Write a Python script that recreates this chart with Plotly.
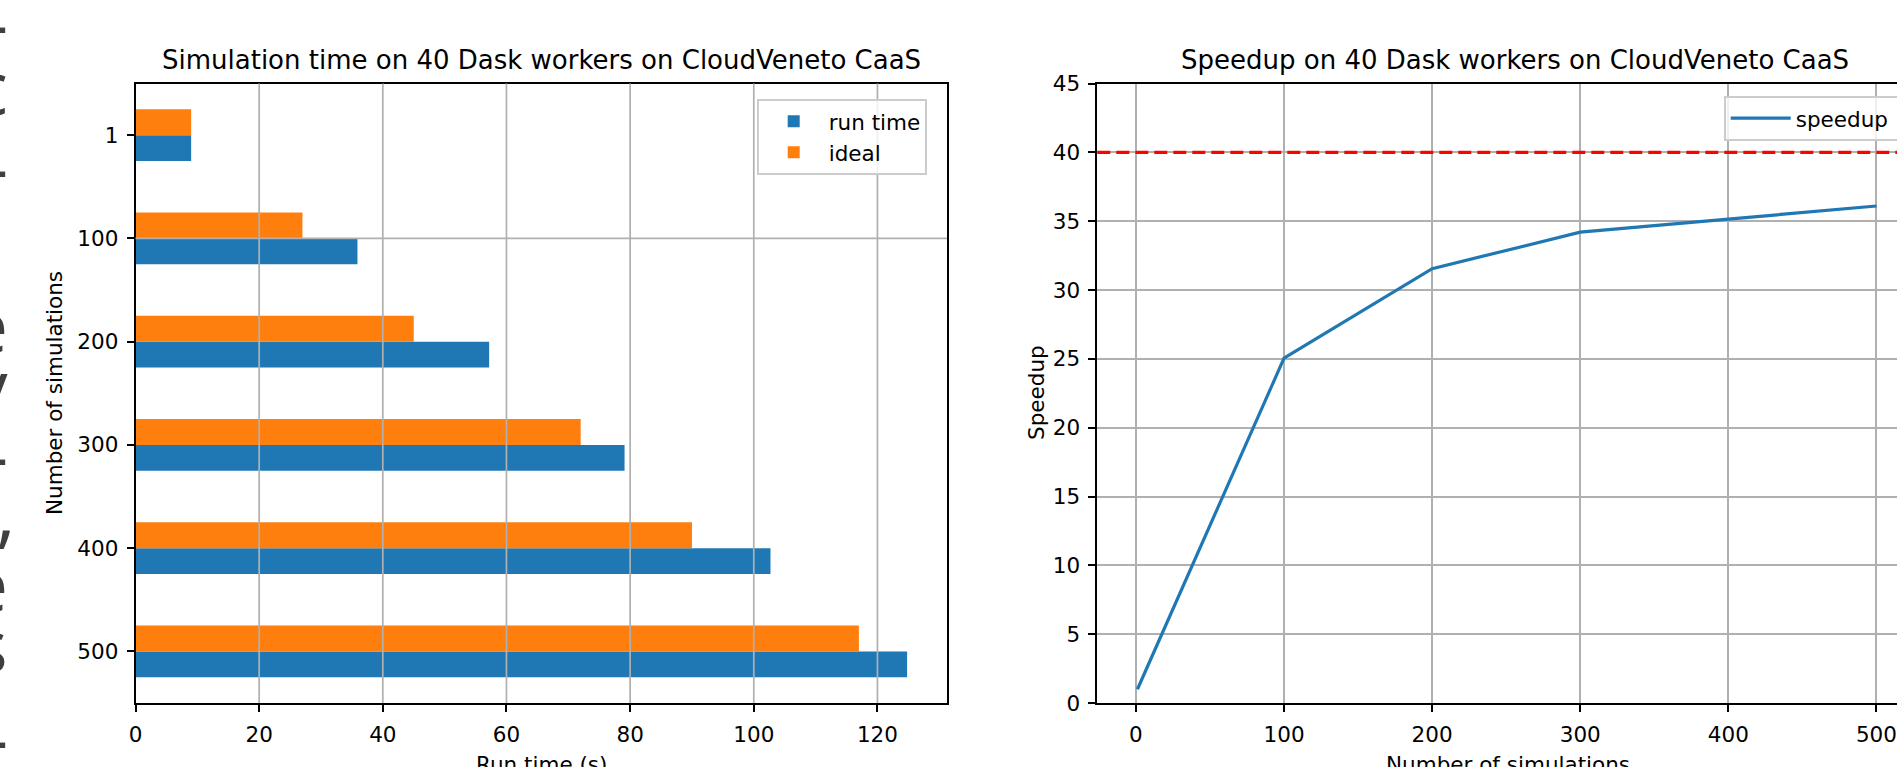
import plotly.graph_objects as go

# ---------------- data ----------------
categories = ["1", "100", "200", "300", "400", "500"]
run_time = [9.0, 35.9, 57.2, 79.1, 102.7, 124.8]
ideal = [9.0, 27.0, 45.0, 72.0, 90.0, 117.0]

n_sims = [1, 100, 200, 300, 400, 500]
speedup = [1.0, 25.05, 31.55, 34.2, 35.15, 36.1]
ideal_speedup = 40

left_xticks = [0, 20, 40, 60, 80, 100, 120]
right_xticks = [0, 100, 200, 300, 400, 500]
right_yticks = [0, 5, 10, 15, 20, 25, 30, 35, 40, 45]

# fragments of text cut by the left edge of the reference picture
frag_chars = ["-", "c", "-", "e", "y", "-", ",", "e", "s", "-"]
frag_y = [30, 95, 174, 333, 394, 462, 519, 592, 653, 745]

# ---------------- layout helpers ----------------
W, H = 1897, 767
def px(x):
    return x / W
def py(y):
    return 1 - y / H

BLUE = "#1f77b4"
ORANGE = "#ff7f0e"
GRID = "#b0b0b0"
FONT = "DejaVu Sans"
TICK = 21.5
LW = 1.7

fig = go.Figure()

fig.add_trace(go.Bar(
    y=categories, x=run_time, orientation="h", name="run time",
    marker=dict(color=BLUE, line=dict(width=0)), width=0.25, offset=0.0,
    xaxis="x", yaxis="y", legend="legend",
))
fig.add_trace(go.Bar(
    y=categories, x=ideal, orientation="h", name="ideal",
    marker=dict(color=ORANGE, line=dict(width=0)), width=0.25, offset=-0.25,
    xaxis="x", yaxis="y", legend="legend",
))
fig.add_trace(go.Scatter(
    x=n_sims, y=speedup, mode="lines", name="speedup\u00a0\u00a0\u00a0\u00a0",
    line=dict(color=BLUE, width=3.2),
    xaxis="x2", yaxis="y2", legend="legend2",
))

axis_common = dict(
    showline=True, linecolor="black", linewidth=LW,
    ticks="outside", ticklen=7, tickwidth=LW, tickcolor="black",
    tickfont=dict(family=FONT, size=TICK, color="black"),
    zeroline=False, layer="above traces", ticklabelstandoff=4,
    automargin=False,
)

fig.update_layout(
    template="none",
    width=W, height=H,
    margin=dict(l=0, r=0, t=0, b=0, pad=0, autoexpand=False),
    paper_bgcolor="white", plot_bgcolor="white",
    barmode="overlay",
    font=dict(family=FONT, size=TICK, color="black"),
    xaxis=dict(domain=[px(135.5), px(947)], range=[0, 131.25],
               tickvals=left_xticks, showgrid=False, mirror=True,
               anchor="y", **axis_common),
    yaxis=dict(domain=[py(703), py(83.5)], type="category",
               categoryorder="array", categoryarray=categories,
               range=[5.5, -0.5], showgrid=False, mirror=True,
               anchor="x", **axis_common),
    xaxis2=dict(domain=[px(1097.3), 1.0], range=[-26.1, 513.9],
                tickvals=right_xticks, showgrid=True, gridcolor=GRID,
                gridwidth=LW, mirror=True, anchor="y2", **axis_common),
    yaxis2=dict(domain=[py(703), py(83.5)], range=[0, 45],
                tickvals=right_yticks, showgrid=True, gridcolor=GRID,
                gridwidth=LW, mirror=False, anchor="x2", **axis_common),
    legend=dict(x=px(757), y=py(99), xanchor="left", yanchor="top",
                bgcolor="rgba(255,255,255,0.8)", bordercolor="#cccccc",
                borderwidth=LW, font=dict(family=FONT, size=TICK),
                traceorder="normal", itemwidth=60),
    legend2=dict(x=px(1724), y=py(96), xanchor="left", yanchor="top",
                 bgcolor="rgba(255,255,255,0.8)", bordercolor="#cccccc",
                 borderwidth=LW, font=dict(family=FONT, size=TICK),
                 itemwidth=60),
)

shapes = []
# grid lines of the left plot, drawn above the bars like in the reference
for t in left_xticks[1:]:
    shapes.append(dict(type="line", xref="x", yref="y domain", x0=t, x1=t,
                       y0=0, y1=1, line=dict(color=GRID, width=LW), layer="above"))
for c in categories:
    shapes.append(dict(type="line", xref="x domain", yref="y", x0=0, x1=1,
                       y0=c, y1=c, line=dict(color=GRID, width=LW), layer="above"))
# ideal speedup line
shapes.append(dict(type="line", xref="x2 domain", yref="y2", x0=0, x1=1,
                   y0=ideal_speedup, y1=ideal_speedup,
                   line=dict(color="red", width=3.2, dash="13px,6px"), layer="above"))
fig.update_layout(shapes=shapes)

ann = []
ann.append(dict(text="Simulation time on 40 Dask workers on CloudVeneto CaaS",
                x=px(541), y=py(60), xref="paper", yref="paper",
                xanchor="center", yanchor="middle", showarrow=False,
                font=dict(family=FONT, size=26, color="black")))
ann.append(dict(text="Speedup on 40 Dask workers on CloudVeneto CaaS",
                x=px(1515), y=py(60), xref="paper", yref="paper",
                xanchor="center", yanchor="middle", showarrow=False,
                font=dict(family=FONT, size=26, color="black")))
ann.append(dict(text="Run time (s)", x=px(541), y=py(750), xref="paper", yref="paper",
                xanchor="center", yanchor="top", showarrow=False,
                font=dict(family=FONT, size=TICK, color="black")))
ann.append(dict(text="Number of simulations", x=px(1508), y=py(750), xref="paper",
                yref="paper", xanchor="center", yanchor="top", showarrow=False,
                font=dict(family=FONT, size=TICK, color="black")))
ann.append(dict(text="Number of simulations", x=px(54), y=py(393), xref="paper",
                yref="paper", xanchor="center", yanchor="middle", textangle=-90,
                showarrow=False, font=dict(family=FONT, size=TICK, color="black")))
ann.append(dict(text="Speedup", x=px(1036), y=py(393), xref="paper",
                yref="paper", xanchor="center", yanchor="middle", textangle=-90,
                showarrow=False, font=dict(family=FONT, size=TICK, color="black")))
for ch, yy in zip(frag_chars, frag_y):
    xr = 17 if ch == "," else 10
    ann.append(dict(text=ch, x=px(xr), y=py(yy - 9), xref="paper", yref="paper",
                    xanchor="right", yanchor="middle", showarrow=False,
                    font=dict(family="Open Sans", size=75, color="#3f3f3f")))
fig.update_layout(annotations=ann)

fig.write_html("out.html",
               config={"displayModeBar": False},
               post_script="document.body.style.margin='0px';"
                           "document.body.style.overflow='hidden';")
